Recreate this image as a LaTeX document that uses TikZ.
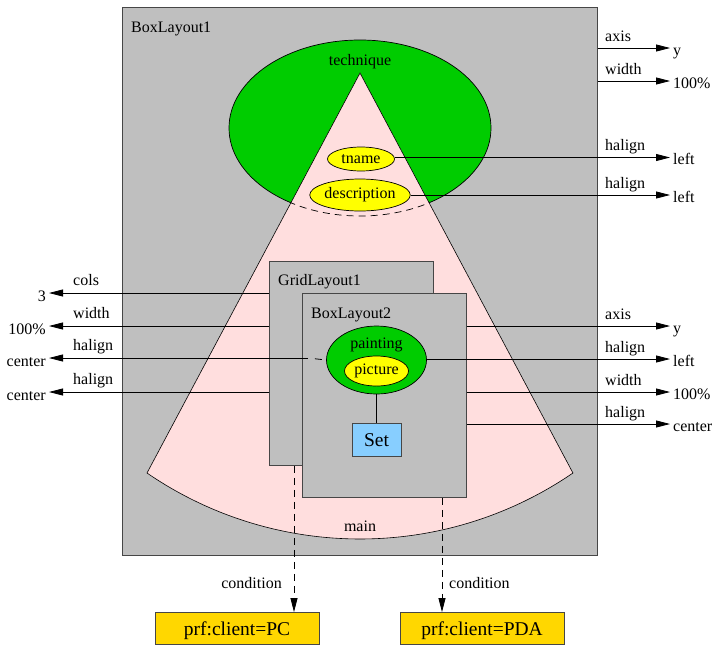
\documentclass[tikz,border=0pt]{standalone}
\usepackage{fontspec}
\setmainfont{Liberation Serif}
\newfontfamily\diagfont{Liberation Serif}
\usetikzlibrary{shapes.geometric,arrows.meta}
\definecolor{boxgray}{RGB}{191,191,191}
\definecolor{boxline}{RGB}{70,70,70}
\definecolor{techgreen}{RGB}{0,204,0}
\definecolor{nameyellow}{RGB}{255,255,0}
\definecolor{mainpink}{RGB}{255,222,222}
\definecolor{setblue}{RGB}{135,206,255}
\definecolor{prfgold}{RGB}{255,215,0}
\newcommand{\lblfont}{\diagfont\fontsize{16}{19}\selectfont}
\newcommand{\bigfont}{\diagfont\fontsize{19.5}{23}\selectfont}
\begin{document}
\begin{tikzpicture}[x=1pt,y=-1pt,
		every node/.style={font=\lblfont, inner sep=0pt},
		layout/.style={draw=boxline, fill=boxgray, line width=0.8pt, anchor=north west},
		oval/.style={ellipse, draw, line width=0.7pt},
		prf/.style={draw=boxline, fill=prfgold, line width=0.8pt, font=\bigfont, minimum width=164pt, minimum height=32pt, text height=13pt, text depth=0pt},
		attr/.style={line width=0.8pt, -{Triangle[length=14pt,width=7pt]}},
		cond/.style={attr, dash pattern=on 7pt off 5pt}]
				\useasboundingbox (0,0) rectangle (715,646);
				%outer box
				\node[layout, minimum width=475pt, minimum height=548pt] (box1) at (122,7) {};
				\node[anchor=base west] (box1-lbl) at (131,32) {BoxLayout1};
				%technique
				\node[oval, fill=techgreen, minimum width=262pt, minimum height=176pt] (technique) at (360,128) {};
				\node[anchor=base] (technique-lbl) at (360,65) {technique};
				%main
				\fill[mainpink] (360,73) -- (147,473) arc[start angle=124.43, end angle=55.57, radius=376.7] -- cycle;
				\draw[line width=0.6pt] (360,73) -- (147,473) arc[start angle=124.43, end angle=55.57, radius=376.7] -- cycle;
				\begin{scope}
					\clip (360,73) -- (147,473) arc[start angle=124.43, end angle=55.57, radius=376.7] -- cycle;
					\draw[line width=0.7pt, dash pattern=on 7pt off 5pt] (technique.center) ellipse[x radius=131, y radius=88];
				\end{scope}
				\node[anchor=base] (main-lbl) at (360,531) {main};
				\node[oval, fill=nameyellow, minimum width=67pt, minimum height=24pt] (tname) at (361,159) {tname};
				\node[oval, fill=nameyellow, minimum width=99pt, minimum height=32pt] (description) at (360,195) {description};
				%grid and inner box
				\node[layout, minimum width=164pt, minimum height=204pt] (grid1) at (269,261) {};
				\node[anchor=base west] (grid1-lbl) at (278,285) {GridLayout1};
				\node[layout, minimum width=164pt, minimum height=204pt] (box2) at (302,293) {};
				\node[anchor=base west] (box2-lbl) at (311,318) {BoxLayout2};
				\node[oval, fill=techgreen, minimum width=100pt, minimum height=68pt] (painting) at (376.5,360) {};
				\node[anchor=base] (painting-lbl) at (376.5,348) {painting};
				\node[oval, fill=nameyellow, minimum width=64pt, minimum height=30pt] (picture) at (376.5,371) {picture};
				\node[draw=boxline, fill=setblue, line width=0.8pt, font=\bigfont, minimum width=49pt, minimum height=33pt, text height=13pt, text depth=0pt] (set) at (376.5,440) {Set};
				\draw[line width=0.8pt] (painting.south) -- (set.north);
				%attributes right
				\foreach \src/\y/\key/\val [count=\i] in {box1.east/48/axis/y, box1.east/81/width/100\%, tname.east/157.5/halign/left, description.east/195/halign/left, box2.east/326/axis/y, painting.east/359/halign/left, box2.east/392/width/100\%, box2.east/424/halign/center}{
					\coordinate (rtip\i) at (670,\y);
					\draw[attr] (\src |- rtip\i) -- (rtip\i);
					\node[anchor=base west] (rkey\i) at (605,\y-7) {\key};
					\node[anchor=base west] (rval\i) at (673,\y+7) {\val};
				}
				%attributes left
				\coordinate (pdash) at (308,358);
				\draw[line width=0.8pt, dash pattern=on 7pt off 7pt, dash phase=7pt] (pdash) -- (painting.west);
				\foreach \src/\y/\key/\val [count=\i] in {grid1.west/293/cols/3, grid1.west/326/width/100\%, pdash/358/halign/center, grid1.west/392/halign/center}{
					\coordinate (ltip\i) at (49,\y);
					\draw[attr] (\src |- ltip\i) -- (ltip\i);
					\node[anchor=base west] (lkey\i) at (73,\y-8) {\key};
					\node[anchor=base east] (lval\i) at (46,\y+8) {\val};
				}
				%conditions
				\node[prf] (pc) at (237,628.5) {prf:client=PC};
				\node[prf] (pda) at (482,628.5) {prf:client=PDA};
				\draw[cond] (294,0 |- grid1.south) -- (294,0 |- pc.north);
				\draw[cond] (442,0 |- box2.south) -- (442,0 |- pda.north);
				\node[anchor=base east] (cond-pc) at (282,588) {condition};
				\node[anchor=base west] (cond-pda) at (449,588) {condition};
			\end{tikzpicture}
\end{document}
